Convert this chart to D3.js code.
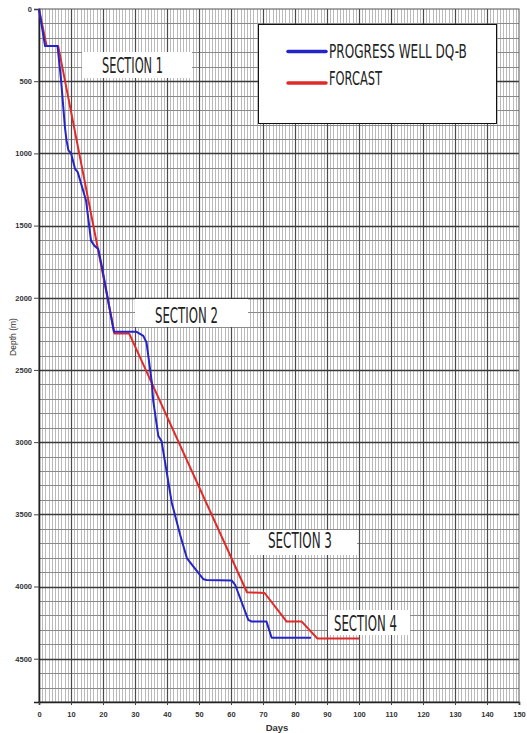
<!DOCTYPE html>
<html>
<head>
<meta charset="utf-8">
<script src="https://cdn.jsdelivr.net/npm/d3@7"></script>
<style>
  html, body { margin: 0; padding: 0; background: #fff; }
  svg { display: block; }
</style>
</head>
<body>
<svg id="chart" width="527" height="733"></svg>
<script>
// ---- data ----
const progressDays  = [0, 1.9, 5.8, 6.9, 8.1, 8.6, 9.2, 10, 11.25, 12.1, 14.7, 16.25, 17.3, 18.5, 19.6, 23.4, 30.5, 32.6, 33.6, 35.2, 35.7, 37.3, 38.3, 41.5, 44.1, 46.2, 48.2, 51.4, 52.4, 60.2, 61.3, 65.4, 66.5, 71.1, 72.7, 85];
const progressDepth = [0, 257, 257, 493, 818, 910, 979, 998, 1107, 1130, 1326, 1604, 1639, 1662, 1778, 2236, 2236, 2264, 2310, 2576, 2715, 2958, 2993, 3421, 3641, 3803, 3861, 3950, 3955, 3958, 3988, 4231, 4243, 4243, 4355, 4355];
const forecastDays  = [0, 2.4, 6, 23.6, 28.2, 65, 70.5, 77.4, 82.1, 87, 100];
const forecastDepth = [0, 257, 257, 2248, 2248, 4040, 4045, 4243, 4243, 4360, 4360];
const xTicks = [0, 10, 20, 30, 40, 50, 60, 70, 80, 90, 100, 110, 120, 130, 140, 150];
const yTicks = [0, 500, 1000, 1500, 2000, 2500, 3000, 3500, 4000, 4500];
const seriesNames = ["PROGRESS WELL DQ-B", "FORCAST"];
const sectionNames = ["SECTION 1", "SECTION 2", "SECTION 3", "SECTION 4"];

// ---- layout ----
const svg = d3.select("#chart");
const L = 39, R = 519, T = 9, B = 702;
const x = d3.scaleLinear().domain([0, 150]).range([L, R]);
const y = d3.scaleLinear().domain([0, 4800]).range([T, B]);

const grid = svg.append("g");
grid.selectAll(".vmin").data(d3.range(1, 150)).join("line")
  .attr("x1", d => Math.round(x(d)) + 0.5).attr("x2", d => Math.round(x(d)) + 0.5)
  .attr("y1", T).attr("y2", B)
  .attr("stroke", "#bababa").attr("stroke-width", 1);
grid.selectAll(".hmin").data(d3.range(100, 4800, 100)).join("line")
  .attr("x1", L).attr("x2", R)
  .attr("y1", d => Math.round(y(d)) + 0.5).attr("y2", d => Math.round(y(d)) + 0.5)
  .attr("stroke", "#8a8a8a").attr("stroke-width", 1);
grid.selectAll(".vmaj").data(xTicks.filter(d => d > 0 && d < 150)).join("line")
  .attr("x1", d => Math.round(x(d)) + 0.5).attr("x2", d => Math.round(x(d)) + 0.5)
  .attr("y1", T).attr("y2", B)
  .attr("stroke", "#4a4a4a").attr("stroke-width", 1.2);
grid.selectAll(".hmaj").data(yTicks.filter(d => d > 0)).join("line")
  .attr("x1", L).attr("x2", R)
  .attr("y1", d => Math.round(y(d)) + 0.5).attr("y2", d => Math.round(y(d)) + 0.5)
  .attr("stroke", "#3a3a3a").attr("stroke-width", 1.3);

svg.append("rect").attr("x", L).attr("y", T).attr("width", R - L).attr("height", B - T)
  .attr("fill", "none").attr("stroke", "#555").attr("stroke-width", 1);

// axes
const yAxis = d3.axisLeft(y).tickValues(yTicks).tickFormat(d3.format("d")).tickSize(5).tickPadding(2);
const xAxis = d3.axisBottom(x).tickValues(xTicks).tickFormat(d3.format("d")).tickSize(3).tickPadding(7);
const gy = svg.append("g").attr("transform", `translate(${L},0)`).call(yAxis);
const gx = svg.append("g").attr("transform", `translate(0,${B})`).call(xAxis);
[gy, gx].forEach(g => {
  g.select(".domain").attr("stroke", "#222").attr("stroke-width", 1.6);
  g.selectAll(".tick line").attr("stroke", "#444");
  g.selectAll("text").attr("font-family", "Liberation Sans, Arial, sans-serif")
    .attr("font-size", 7.5).attr("font-weight", "bold").attr("fill", "#333");
});

svg.append("text").attr("transform", "translate(16,337) rotate(-90)")
  .attr("text-anchor", "middle").attr("font-family", "Liberation Sans, Arial, sans-serif")
  .attr("font-size", 8.5).attr("fill", "#333").text("Depth (m)");
svg.append("text").attr("x", 277).attr("y", 731)
  .attr("text-anchor", "middle").attr("font-family", "Liberation Sans, Arial, sans-serif")
  .attr("font-size", 9.5).attr("font-weight", "bold").attr("fill", "#333").text("Days");

// series
const line = d3.line().x(d => x(d[0])).y(d => y(d[1]));
const forecast = d3.zip(forecastDays, forecastDepth);
const progress = d3.zip(progressDays, progressDepth);
svg.append("path").datum(forecast).attr("d", line)
  .attr("fill", "none").attr("stroke", "#e02a2a").attr("stroke-width", 2)
  .attr("stroke-linejoin", "round");
svg.append("path").datum(progress).attr("d", line)
  .attr("fill", "none").attr("stroke", "#2424c8").attr("stroke-width", 2)
  .attr("stroke-linejoin", "round");

// condensed text helper: scale horizontally to a target width
const condensed = "'DejaVu Sans Condensed', 'Liberation Sans Narrow', sans-serif";
function narrowText(parent, str, tx, ty, tw, size) {
  const t = parent.append("text").attr("x", 0).attr("y", 0)
    .attr("font-family", condensed).attr("font-size", size)
    .attr("fill", "#222").text(str);
  const w = t.node().getComputedTextLength();
  t.attr("transform", `translate(${tx},${ty}) scale(${tw / w},1)`);
  return t;
}

// section labels
const sectionLayout = [
  {box: [82, 52, 110, 26], tx: 102, tw: 61, ty: 72.5},
  {box: [135, 299, 113, 28], tx: 155, tw: 63, ty: 323},
  {box: [250, 530, 107, 25], tx: 268, tw: 64, ty: 548},
  {box: [328, 610, 82, 25], tx: 334, tw: 63, ty: 630.5}
];
sectionNames.forEach((name, i) => {
  const s = sectionLayout[i];
  svg.append("rect").attr("x", s.box[0]).attr("y", s.box[1])
    .attr("width", s.box[2]).attr("height", s.box[3]).attr("fill", "#fff");
  narrowText(svg, name, s.tx, s.ty, s.tw, 21);
});

// legend
const lg = svg.append("g");
lg.append("rect").attr("x", 258.5).attr("y", 24.5).attr("width", 238).attr("height", 99)
  .attr("fill", "#fff").attr("stroke", "#111").attr("stroke-width", 1);
const legendColors = ["#2424c8", "#e02a2a"];
const legendLayout = [
  {ly: 51.5, ty: 57.5, tw: 138},
  {ly: 83, ty: 85, tw: 53}
];
seriesNames.forEach((name, i) => {
  const l = legendLayout[i];
  lg.append("line").attr("x1", 288).attr("x2", 326).attr("y1", l.ly).attr("y2", l.ly)
    .attr("stroke", legendColors[i]).attr("stroke-width", 3.5).attr("stroke-linecap", "round");
  narrowText(lg, name, 329, l.ty, l.tw, 20);
});
</script>
</body>
</html>
